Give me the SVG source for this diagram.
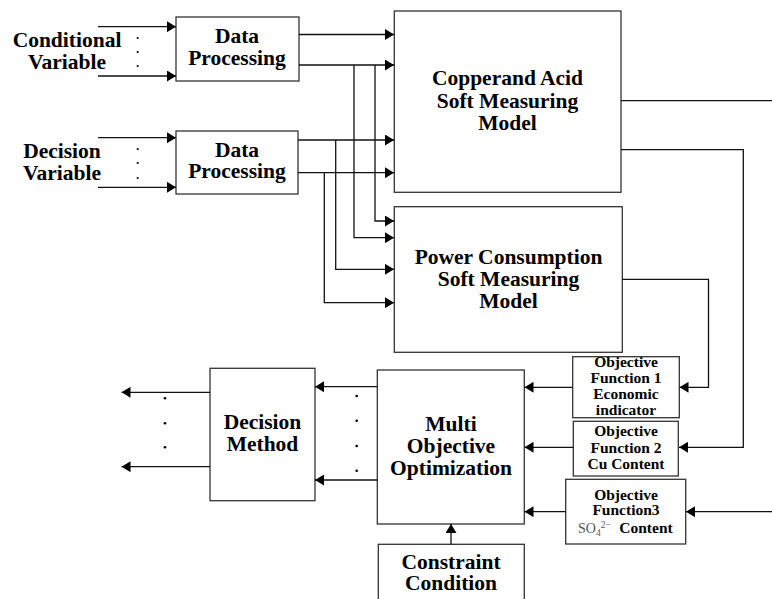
<svg xmlns="http://www.w3.org/2000/svg" width="772" height="599" viewBox="0 0 772 599">
<defs>
<marker id="ah" markerUnits="userSpaceOnUse" markerWidth="9" markerHeight="11" refX="9" refY="5.5" orient="auto">
<path d="M0,0 L9,5.5 L0,11 z" fill="#000"/>
</marker>
<style>
.box{fill:#fff;stroke:#333;stroke-width:1.3}
.t{font-family:"Liberation Serif","Times New Roman",serif;font-weight:bold;font-size:21.5px;fill:#000;text-anchor:middle}
.s{font-family:"Liberation Serif","Times New Roman",serif;font-weight:bold;font-size:15.5px;fill:#000;text-anchor:middle}
.c{fill:none;stroke:#111;stroke-width:1.3}
.a{marker-end:url(#ah)}
.dot{fill:#000}
</style>
</defs>
<rect width="772" height="599" fill="#fff"/>
<g id="labels-left">
<text class="t" x="67" y="47">Conditional</text>
<text class="t" x="67" y="69">Variable</text>
<text class="t" x="62" y="158">Decision</text>
<text class="t" x="62" y="180">Variable</text>
</g>
<g id="dp1"><rect class="box" x="176" y="17" width="123" height="64"/>
<text class="t" x="237" y="43">Data</text><text class="t" x="237" y="64.5">Processing</text></g>
<g id="dp2"><rect class="box" x="176" y="131" width="122" height="63"/>
<text class="t" x="237" y="157">Data</text><text class="t" x="237" y="178">Processing</text></g>
<g id="copper"><rect class="box" x="394.3" y="11" width="226.7" height="181.3"/>
<text class="t" x="507.5" y="85">Copperand Acid</text><text class="t" x="507.5" y="107.5">Soft Measuring</text><text class="t" x="507.5" y="129.5">Model</text></g>
<g id="power"><rect class="box" x="394.3" y="206.7" width="228" height="145.6"/>
<text class="t" x="508.5" y="263.5">Power Consumption</text><text class="t" x="508.5" y="286">Soft Measuring</text><text class="t" x="508.5" y="307.5">Model</text></g>
<g id="of1"><rect class="box" x="572.7" y="356.7" width="106.6" height="61"/>
<text class="s" x="626" y="367">Objective</text><text class="s" x="626" y="383">Function 1</text><text class="s" x="626" y="399">Economic</text><text class="s" x="626" y="415">indicator</text></g>
<g id="of2"><rect class="box" x="573.3" y="421.3" width="105" height="54.7"/>
<text class="s" x="626" y="436">Objective</text><text class="s" x="626" y="452.5">Function 2</text><text class="s" x="626" y="468.5">Cu Content</text></g>
<g id="of3"><rect class="box" x="565.7" y="479.3" width="120" height="64.7"/>
<text class="s" x="626" y="499.5">Objective</text><text class="s" x="626" y="515">Function3</text>
<text x="578" y="533" style="font-family:'Liberation Serif','Times New Roman',serif;font-size:14px;fill:#555">SO<tspan font-size="9.5" dy="3">4</tspan><tspan font-size="9.5" dy="-8">2−</tspan></text>
<text class="s" x="646" y="533">Content</text></g>
<g id="moo"><rect class="box" x="377.3" y="370" width="147" height="154"/>
<text class="t" x="451" y="431">Multi</text><text class="t" x="451" y="453">Objective</text><text class="t" x="451" y="474.5">Optimization</text></g>
<g id="dm"><rect class="box" x="210" y="368.3" width="105" height="132.4"/>
<text class="t" x="262.5" y="429">Decision</text><text class="t" x="262.5" y="450.5">Method</text></g>
<g id="constraint"><rect class="box" x="378.3" y="544.3" width="146" height="60"/>
<text class="t" x="451" y="568.5">Constraint</text><text class="t" x="451" y="589.5">Condition</text></g>
<g id="connectors">
<path class="c a" d="M98,26.7 H176"/>
<path class="c a" d="M98,76 H176"/>
<path class="c a" d="M98,137.7 H176"/>
<path class="c a" d="M98,187.3 H176"/>
<path class="c a" d="M299,34.5 H394"/>
<path class="c a" d="M299,65 H394"/>
<path class="c a" d="M298,140 H394"/>
<path class="c a" d="M298,172.7 H394"/>
<path class="c a" d="M375,65 V221 H394"/>
<path class="c a" d="M354,65 V237.7 H394"/>
<path class="c a" d="M335.7,140 V269.3 H394"/>
<path class="c a" d="M324.3,172.7 V302.7 H394"/>
<path class="c" d="M621,100.7 H772"/>
<path class="c a" d="M621,149.7 H743.3 V447.3 H679"/>
<path class="c a" d="M622.3,279.3 H708.5 V387.3 H679.5"/>
<path class="c a" d="M572.7,387.3 H524.5"/>
<path class="c a" d="M573.3,447.3 H524.5"/>
<path class="c a" d="M565.7,511.7 H524.5"/>
<path class="c a" d="M772,511.7 H686"/>
<path class="c a" d="M377.3,386.7 H315"/>
<path class="c a" d="M377.3,480 H315"/>
<path class="c a" d="M210,392.3 H121.5"/>
<path class="c a" d="M210,466.7 H121.5"/>
<path class="c a" d="M451,544.3 V524"/>
</g>
<g id="dots">
<circle class="dot" cx="137.7" cy="38" r="1.1"/><circle class="dot" cx="137.7" cy="52" r="1.1"/><circle class="dot" cx="137.7" cy="66" r="1.1"/>
<circle class="dot" cx="137.7" cy="149" r="1.1"/><circle class="dot" cx="137.7" cy="163" r="1.1"/><circle class="dot" cx="137.7" cy="178" r="1.1"/>
<circle class="dot" cx="165" cy="398.3" r="1.3"/><circle class="dot" cx="165" cy="423.3" r="1.3"/><circle class="dot" cx="165" cy="447.3" r="1.3"/>
<circle class="dot" cx="356.7" cy="396" r="1.3"/><circle class="dot" cx="356.7" cy="420.7" r="1.3"/><circle class="dot" cx="356.7" cy="446" r="1.3"/><circle class="dot" cx="356.7" cy="470.7" r="1.3"/>
</g>
</svg>
